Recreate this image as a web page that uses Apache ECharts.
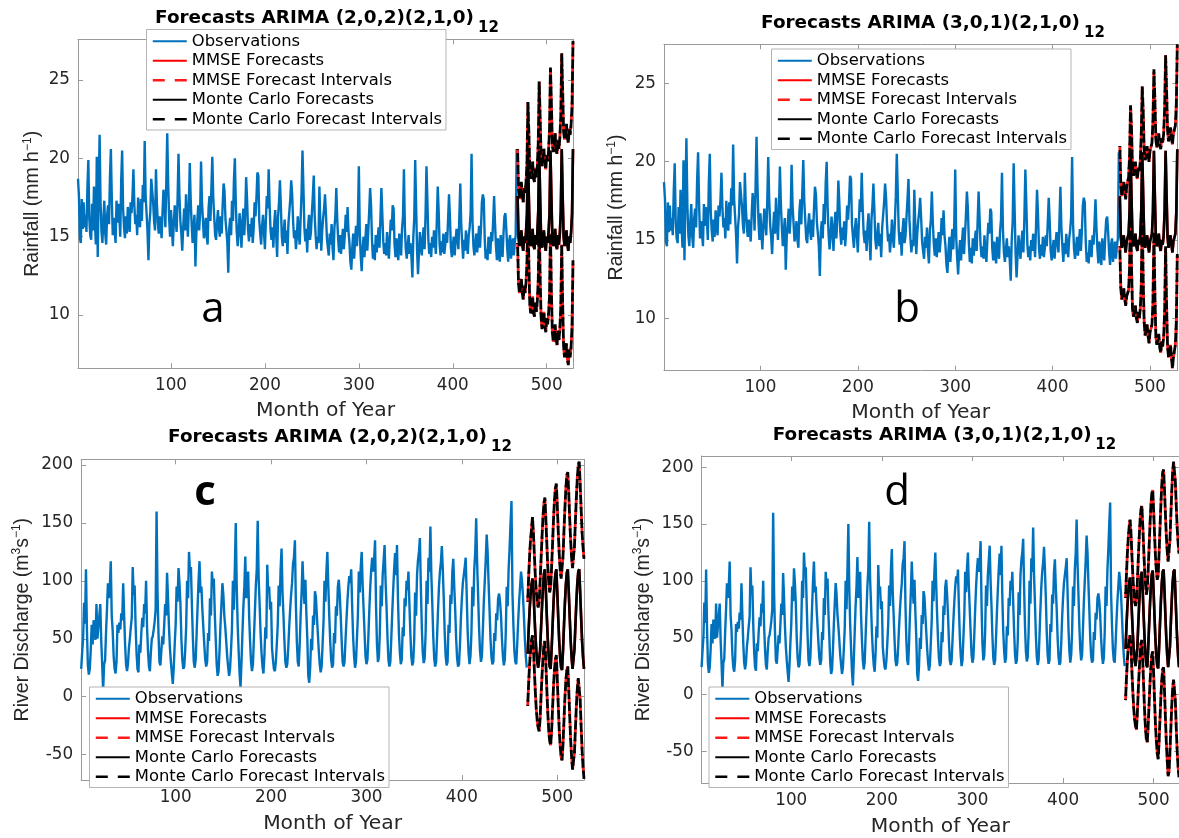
<!DOCTYPE html>
<html><head><meta charset="utf-8">
<script src="https://cdn.jsdelivr.net/npm/echarts@6/dist/echarts.min.js"></script>
<style>html,body{margin:0;padding:0;background:#fff}#c{width:1179px;height:838px}</style>
</head><body><div id="c"></div>
<script>
// ---------------- DATA ----------------
const xTicks = [100, 200, 300, 400, 500];
const rainTicks = [10, 15, 20, 25];
const flowTicks = [-50, 0, 50, 100, 150, 200];
const legendNames = ['Observations', 'MMSE Forecasts', 'MMSE Forecast Intervals', 'Monte Carlo Forecasts', 'Monte Carlo Forecast Intervals'];
const titlesMain = ['Forecasts ARIMA (2,0,2)(2,1,0)', 'Forecasts ARIMA (3,0,1)(2,1,0)', 'Forecasts ARIMA (2,0,2)(2,1,0)', 'Forecasts ARIMA (3,0,1)(2,1,0)'];
const titlesSub = ['12', '12', '12', '12'];
const panelLetters = ['a', 'b', 'c', 'd'];

// Monthly rainfall observations (months 1..468)
const rainObs = [
18.7,17.6,14.9,14.6,17.4,15.5,17.2,15.6,16.4,15.3,18.1,19.9,
16.2,15.1,14.8,17.1,15.4,18.2,16.0,14.5,20.1,13.7,17.9,21.5,
17.2,15.3,14.6,16.1,17.3,15.2,14.5,16.4,17.0,15.8,18.8,20.6,
17.4,15.1,16.2,15.4,14.6,17.3,15.9,17.1,16.3,15.0,18.6,20.5,
16.8,15.6,14.9,16.3,15.2,16.9,16.0,15.3,17.2,16.5,17.6,19.3,
17.0,15.8,16.4,15.1,17.5,16.2,15.6,17.4,16.0,18.3,17.2,21.1,
17.6,16.5,15.3,13.5,15.8,16.6,18.7,18.6,17.2,16.0,15.4,19.3,
17.1,15.9,15.2,16.3,15.7,14.9,16.6,18.0,17.3,15.6,18.4,21.6,
18.4,16.2,15.0,16.7,15.5,14.4,15.9,17.0,16.1,15.3,17.4,20.3,
17.6,16.0,15.2,14.1,15.6,16.8,15.4,17.7,16.2,15.0,16.9,19.7,
17.3,15.8,14.6,15.5,16.4,13.1,15.2,16.0,17.0,15.4,16.5,19.8,
17.2,16.1,14.9,15.3,16.2,15.0,14.5,16.8,17.6,16.0,18.1,20.1,
17.5,16.3,15.1,14.8,15.9,16.7,15.6,15.0,16.3,15.2,17.0,18.4,
17.9,16.1,15.4,14.6,12.7,15.5,16.2,15.1,17.3,16.0,18.6,20.0,
17.1,15.3,14.4,15.2,16.5,15.6,14.3,15.9,16.8,15.1,16.4,18.8,
17.4,15.5,14.7,15.8,15.0,16.2,14.6,15.5,17.2,16.3,17.5,19.1,
18.9,16.0,15.2,14.5,15.7,16.4,15.3,14.2,16.0,17.6,16.8,19.3,
17.0,15.4,14.8,15.6,14.3,15.9,16.7,15.1,13.7,16.3,17.2,18.6,
16.9,15.0,14.4,15.3,16.1,14.6,15.4,13.9,15.8,16.6,17.4,18.6,
17.7,16.0,14.9,15.4,14.2,15.0,16.3,15.2,14.5,16.1,17.8,20.5,
18.1,15.6,14.7,15.5,14.0,15.7,16.4,14.8,15.3,16.5,17.6,18.9,
16.3,15.1,14.2,15.0,14.6,18.2,15.9,14.1,15.4,16.2,16.8,17.7,
16.4,14.9,14.3,13.8,15.2,14.5,15.8,14.3,13.5,15.6,16.3,18.1,
16.1,14.8,14.0,15.1,13.9,14.7,15.5,14.2,15.0,16.4,15.3,16.9,
15.3,14.6,13.4,12.9,14.3,15.2,13.6,14.8,15.7,14.4,16.0,19.5,
15.2,13.8,12.8,14.2,15.0,13.7,14.9,15.8,14.1,15.3,16.6,18.1,
17.0,14.8,13.6,14.5,13.5,15.1,14.0,14.8,15.6,14.3,16.2,18.1,
16.4,14.7,13.9,14.6,13.8,15.3,14.2,13.6,15.0,16.1,15.4,17.0,
16.8,14.5,13.7,14.9,14.1,13.5,15.2,14.4,13.8,15.5,16.3,19.3,
15.6,14.2,13.6,14.4,15.1,13.9,14.6,13.7,12.4,15.0,16.2,19.9,
16.9,14.1,12.6,14.0,15.3,14.5,13.8,14.9,15.6,14.2,16.4,19.5,
17.3,14.8,13.9,14.6,13.7,15.0,14.3,15.4,14.8,13.9,16.0,18.2,
16.6,14.5,13.8,14.7,14.0,15.2,13.9,14.5,15.3,14.6,16.1,17.7,
16.2,14.3,13.7,14.4,15.0,13.8,14.7,15.5,14.9,14.2,16.3,18.4,
15.8,14.6,13.6,14.8,14.1,15.4,14.6,13.9,15.1,15.6,16.5,20.3,
16.0,14.4,13.8,14.5,15.2,14.0,14.8,15.7,14.3,15.5,17.2,17.7,
17.4,14.9,13.6,14.2,13.5,15.0,14.6,13.9,15.3,14.7,16.0,17.6,
15.8,14.4,13.5,14.9,14.1,13.4,15.1,14.4,13.7,15.2,16.3,16.5,
15.5,14.2,13.4,14.7,15.1,13.6,14.3,14.9,13.8,14.6,15.1,20.6
];

// Rainfall forecasts, panel a (months 469..528)
const rainFcA = [17.6,15.0,14.4,14.8,15.4,14.5,14.1,15.0,14.6,15.3,16.5,20.4, 17.5,14.9,14.4,14.7,15.5,14.4,14.2,15.1,14.5,15.2,16.6,20.5, 17.6,15.0,14.3,14.8,15.4,14.5,14.1,15.0,14.6,15.3,16.5,20.5, 17.5,14.9,14.4,14.7,15.5,14.4,14.2,15.1,14.5,15.2,16.6,20.6, 17.6,15.0,14.4,14.8,15.4,14.5,14.1,15.0,14.6,15.3,16.5,20.6];
const rainUpA = [20.6,18.0,17.4,17.9,18.5,17.6,17.2,18.1,17.8,18.5,19.7,23.6, 21.7,19.1,18.7,19.0,19.8,18.7,18.5,19.4,18.8,19.5,21.0,24.9, 22.7,20.1,19.5,20.0,20.6,19.7,19.3,20.2,19.8,20.5,21.8,25.8, 23.5,20.9,20.4,20.7,21.6,20.5,20.3,21.2,20.6,21.3,22.7,26.7, 24.3,21.7,21.2,21.6,22.2,21.3,21.0,21.9,21.5,22.2,23.4,27.5];
const rainLoA = [14.6,12.0,11.4,11.7,12.3,11.4,11.0,11.9,11.4,12.1,13.3,17.2, 13.3,10.7,10.1,10.4,11.2,10.1,9.9,10.8,10.2,10.9,12.2,16.1, 12.5,9.9,9.1,9.6,10.2,9.3,8.9,9.8,9.4,10.1,11.2,15.2, 11.5,8.9,8.3,8.6,9.4,8.3,8.1,9.0,8.4,9.1,10.5,14.5, 10.7,8.0,7.3,7.6,8.2,7.2,6.8,7.8,7.3,8.0,9.3,13.5];

// Rainfall forecasts, panel b
const rainFcB = [17.8,15.2,14.5,14.6,15.3,14.7,14.2,14.9,14.8,15.4,16.8,20.6, 17.7,15.1,14.6,14.5,15.4,14.6,14.3,15.0,14.7,15.3,16.9,20.6, 17.8,15.2,14.5,14.6,15.3,14.7,14.2,14.9,14.8,15.4,16.8,20.7, 17.7,15.1,14.6,14.5,15.4,14.6,14.3,15.0,14.7,15.3,16.9,20.7, 17.8,15.2,14.5,14.6,15.3,14.7,14.2,14.9,14.8,15.4,16.8,20.8];
const rainUpB = [21.0,18.5,17.8,17.9,18.7,18.1,17.6,18.4,18.3,19.0,20.4,23.6, 22.1,19.6,19.1,19.0,20.0,19.2,18.9,19.6,19.4,20.0,21.7,24.8, 23.2,20.7,20.1,20.3,21.0,20.5,20.0,20.7,20.6,21.2,22.6,25.9, 23.9,21.4,20.9,20.8,21.8,21.1,20.8,21.5,21.2,21.8,23.4,26.8, 24.6,22.0,21.3,21.5,22.2,21.6,21.1,21.8,21.7,22.3,23.7,27.5];
const rainLoB = [14.6,11.9,11.2,11.3,11.9,11.3,10.8,11.4,11.3,11.8,13.2,17.6, 13.3,10.6,10.1,10.0,10.8,10.0,9.7,10.4,10.0,10.6,12.1,16.4, 12.4,9.7,8.9,8.9,9.6,8.9,8.4,9.1,9.0,9.6,11.0,15.5, 11.5,8.8,8.3,8.2,9.0,8.1,7.8,8.5,8.2,8.8,10.4,14.6, 10.8,8.2,7.5,7.6,8.3,7.5,6.8,7.5,7.6,8.3,9.8,14.1];

// Monthly river discharge observations (months 1..468)
const flowObs = [
24,38,50,81,63,110,58,27,19,24,40,62,
45,66,58,49,80,50,60,70,80,48,28,5,
28,31,55,75,98,85,95,117,70,57,35,24,
20,30,62,55,64,58,72,66,98,70,45,28,
22,28,42,50,60,68,112,88,96,62,38,24,
21,45,38,55,68,60,80,72,100,60,40,26,
22,38,50,52,58,65,75,160,90,55,30,27,
28,52,45,62,80,70,107,85,60,42,30,20,
11,25,45,62,95,82,111,98,80,50,32,24,
26,40,60,100,85,125,108,112,80,52,30,25,
32,55,78,100,117,90,95,75,60,45,32,26,
30,55,48,85,70,108,95,102,72,50,28,18,
22,40,62,80,98,88,70,60,48,35,26,18,
24,40,58,100,75,110,150,95,62,40,20,8,
30,55,78,95,121,85,100,108,70,48,30,22,
28,50,72,95,110,152,102,80,55,38,26,20,
35,60,50,114,90,95,75,82,42,32,24,22,
30,45,62,96,78,110,128,90,70,48,30,25,
28,42,60,75,88,98,115,120,135,80,48,30,
26,45,70,90,117,95,80,101,72,50,18,12,
25,50,40,70,62,91,86,70,55,40,28,21,
26,45,65,100,82,108,125,96,70,48,32,25,
28,55,46,78,70,95,101,88,70,48,30,26,
30,48,66,82,95,104,98,110,78,52,35,25,
30,50,70,108,90,112,125,96,75,55,35,28,
32,52,75,95,110,120,108,118,135,80,45,30,
34,55,96,78,105,118,131,100,78,52,32,26,
30,50,72,92,110,124,105,131,85,55,38,28,
32,60,52,85,78,100,92,108,80,55,35,27,
30,48,90,70,105,118,125,137,95,60,38,29,
33,55,100,80,120,108,147,105,80,52,33,26,
30,52,75,95,108,116,130,110,85,55,35,27,
30,62,55,88,80,108,119,95,75,50,33,26,
28,45,68,85,98,105,112,120,90,58,38,28,
35,55,95,78,110,125,154,115,88,60,40,30,
35,58,82,100,118,140,125,98,75,50,34,28,
30,55,48,72,66,85,89,82,70,50,35,27,
32,55,95,78,110,128,150,169,90,62,40,30,
28,45,65,82,95,108,100,88,70,50,35,25
];

// Discharge forecasts, panel c
const flowFcC = [37,58,75,88,97,102,92,72,54,40,30,25, 24,40,60,78,94,106,110,92,70,50,35,26, 24,40,60,80,96,106,110,90,68,48,34,25, 23,40,61,81,97,107,110,91,69,49,34,24, 23,41,62,82,98,108,110,90,68,48,34,24];
const flowUpC = [82,104,122,136,145,155,141,122,104,91,81,77, 82,99,119,138,155,167,172,154,133,113,99,90, 94,111,131,152,169,180,184,165,143,124,110,102, 103,121,143,163,180,191,194,176,154,135,120,111, 111,130,152,172,189,200,203,183,162,142,129,119];
const flowLoC = [-8,12,28,40,49,53,43,22,4,-11,-21,-27, -30,-19,1,18,33,45,48,30,7,-13,-29,-38, -42,-31,-11,8,23,32,36,15,-7,-28,-42,-52, -55,-41,-21,-1,14,23,26,6,-16,-37,-52,-63, -64,-48,-28,-8,7,16,17,-3,-26,-46,-61,-71];

// Discharge forecasts, panel d
const flowFcD = [40,60,77,90,99,103,92,72,54,40,30,25, 25,41,61,79,95,105,108,90,69,49,35,26, 24,41,61,80,96,106,109,90,68,48,34,25, 23,41,62,82,98,108,110,91,69,49,34,24, 23,42,63,83,99,108,110,90,68,48,34,24];
const flowUpD = [85,106,124,138,148,154,142,123,105,92,82,78, 82,98,118,137,153,163,166,149,129,110,97,88, 93,110,130,150,167,177,180,162,141,122,109,101, 105,124,146,167,185,196,198,180,159,140,126,117, 116,136,158,179,196,205,206,187,166,147,134,124];
const flowLoD = [-5,14,30,42,50,52,42,21,3,-12,-22,-28, -31,-17,3,20,35,45,48,29,7,-14,-30,-40, -42,-27,-8,10,25,35,38,18,-5,-26,-41,-52, -57,-42,-22,-2,13,22,24,3,-20,-42,-58,-72, -68,-51,-30,-10,5,13,14,-6,-30,-50,-64,-73];

// ---------------- LAYOUT ----------------
const panels = [
  {grid:{left:78, top:39.3, width:495, height:329}, xr:[1,528], yr:[6.6,27.6], yTicks:rainTicks,
   obs:rainObs, fc:rainFcA, up:rainUpA, lo:rainLoA, yName:'{t|Rainfall (mm h}{sup|\u22121}{t|)}', yGap:34, xLabGap:9, xNameGap:32,
   legend:{left:146.5, top:29.5}, title:{xr:474, y:18.3, subx:478, suby:28}, letter:{x:213, y:310, bold:false}},
  {grid:{left:664, top:44.3, width:513.3, height:326.4}, xr:[1,528], yr:[6.65,27.5], yTicks:rainTicks,
   obs:rainObs, fc:rainFcB, up:rainUpB, lo:rainLoB, yName:'{t|Rainfall (mm h}{sup|\u22121}{t|)}', yGap:36, xLabGap:8, xNameGap:32,
   legend:{left:771.5, top:49}, title:{xr:1080, y:23.3, subx:1084, suby:33.5}, letter:{x:907, y:310, bold:false}},
  {grid:{left:81.2, top:459.3, width:502.8, height:320.7}, xr:[1,528], yr:[-72,205], yTicks:flowTicks,
   obs:flowObs, fc:flowFcC, up:flowUpC, lo:flowLoC, yName:'{t|River Discharge (m}{sup|3}{t|s}{sup|\u22121}{t|)}', yGap:48, xLabGap:9, xNameGap:34,
   legend:{left:89.5, top:687}, title:{xr:487, y:437.5, subx:491, suby:447}, letter:{x:205, y:493, bold:true}},
  {grid:{left:701.6, top:456, width:480.6, height:329}, xr:[1,528], yr:[-78,210], yTicks:flowTicks,
   obs:flowObs, fc:flowFcD, up:flowUpD, lo:flowLoD, yName:'{t|River Discharge (m}{sup|3}{t|s}{sup|\u22121}{t|)}', yGap:47, xLabGap:9, xNameGap:34,
   legend:{left:709, top:687}, title:{xr:1091.6, y:435.5, subx:1095.3, suby:445}, letter:{x:897, y:493, bold:false}}
];

const AX = '#9a9a9a', TXT = '#262626';
const grids = [], xAxes = [], yAxes = [], series = [], legends = [], graphics = [];
const redDash = [6, 6];
const blackDash = [9, 3];
const legendDash = [12, 10];

const legendData = legendNames.map(n => {
  if (n === 'MMSE Forecast Intervals') return {name:n, lineStyle:{type:legendDash, dashOffset:0, color:'#ff1a1a', width:2.6}};
  if (n === 'Monte Carlo Forecast Intervals') return {name:n, lineStyle:{type:legendDash, dashOffset:0, color:'#000', width:2.6}};
  return {name:n};
});

panels.forEach((p, gi) => {
  grids.push(Object.assign({containLabel:false}, p.grid));
  const tickStyle = {show:true, inside:true, length:5, lineStyle:{color:AX, width:1}};
  xAxes.push({type:'value', gridIndex:gi, position:'bottom', min:p.xr[0], max:p.xr[1],
    axisLine:{show:true, onZero:false, lineStyle:{color:AX, width:1}},
    axisTick:Object.assign({customValues:xTicks}, tickStyle),
    axisLabel:{customValues:xTicks, color:TXT, fontFamily:'DejaVu Sans', fontSize:16.8, margin:p.xLabGap},
    splitLine:{show:false},
    name:'Month of Year', nameLocation:'middle', nameGap:p.xNameGap,
    nameTextStyle:{color:TXT, fontFamily:'DejaVu Sans', fontSize:20.3}});
  xAxes.push({type:'value', gridIndex:gi, position:'top', min:p.xr[0], max:p.xr[1],
    axisLine:{show:true, onZero:false, lineStyle:{color:AX, width:1}},
    axisTick:Object.assign({customValues:xTicks}, tickStyle),
    axisLabel:{show:false}, splitLine:{show:false}});
  yAxes.push({type:'value', gridIndex:gi, position:'left', min:p.yr[0], max:p.yr[1],
    axisLine:{show:true, onZero:false, lineStyle:{color:AX, width:1}},
    axisTick:Object.assign({customValues:p.yTicks}, tickStyle),
    axisLabel:{customValues:p.yTicks, color:TXT, fontFamily:'DejaVu Sans', fontSize:16.8, margin:8},
    splitLine:{show:false},
    name:p.yName, nameLocation:'middle', nameGap:p.yGap,
    nameTextStyle:{rich:{
      t:{color:TXT, fontFamily:'Liberation Sans', fontSize:19.5, lineHeight:22},
      sup:{color:TXT, fontFamily:'Liberation Sans', fontSize:12, lineHeight:12, padding:[0,0,11,0]}}}});
  yAxes.push({type:'value', gridIndex:gi, position:'right', min:p.yr[0], max:p.yr[1],
    axisLine:{show:true, onZero:false, lineStyle:{color:AX, width:1}},
    axisTick:Object.assign({customValues:p.yTicks}, tickStyle),
    axisLabel:{show:false}, splitLine:{show:false}});

  const xi = 2 * gi, yi = 2 * gi;
  const start = p.obs.length + 1;
  const fx = arr => arr.map((v, i) => [start + i, v]);
  const base = {type:'line', xAxisIndex:xi, yAxisIndex:yi, symbol:'none', showSymbol:false, silent:true,
    emphasis:{disabled:true}, animation:false, clip:true};
  series.push(Object.assign({}, base, {name:'Observations', data:p.obs.map((v, i) => [i + 1, v]),
    lineStyle:{color:'#0072BD', width:2.4}, itemStyle:{color:'#0072BD'}, z:2}));
  series.push(Object.assign({}, base, {name:'MMSE Forecasts', data:fx(p.fc),
    lineStyle:{color:'#ff0000', width:2.6}, itemStyle:{color:'#ff0000'}, z:3}));
  series.push(Object.assign({}, base, {name:'MMSE Forecast Intervals', data:fx(p.up),
    lineStyle:{color:'#ff1a1a', width:2.8, type:redDash}, itemStyle:{color:'#ff1a1a'}, z:3}));
  series.push(Object.assign({}, base, {name:'MMSE Forecast Intervals', data:fx(p.lo),
    lineStyle:{color:'#ff1a1a', width:2.8, type:redDash}, itemStyle:{color:'#ff1a1a'}, z:3}));
  series.push(Object.assign({}, base, {name:'Monte Carlo Forecasts', data:fx(p.fc),
    lineStyle:{color:'#000', width:2.6}, itemStyle:{color:'#000'}, z:4}));
  series.push(Object.assign({}, base, {name:'Monte Carlo Forecast Intervals', data:fx(p.up),
    lineStyle:{color:'#000', width:2.8, type:blackDash, dashOffset:8}, itemStyle:{color:'#000'}, z:4}));
  series.push(Object.assign({}, base, {name:'Monte Carlo Forecast Intervals', data:fx(p.lo),
    lineStyle:{color:'#000', width:2.8, type:blackDash, dashOffset:8}, itemStyle:{color:'#000'}, z:4}));

  legends.push({show:true, left:p.legend.left, top:p.legend.top, orient:'vertical', data:legendData,
    itemGap:2, itemWidth:34, itemHeight:14, padding:[3,4,2,5], selectedMode:false,
    itemStyle:{opacity:0, borderWidth:0},
    backgroundColor:'#fff', borderColor:'#b3b3b3', borderWidth:1, borderRadius:0,
    textStyle:{fontFamily:'DejaVu Sans', fontSize:16.4, color:'#000', lineHeight:17.5}, z:10});

  graphics.push({type:'text', x:p.title.xr, y:p.title.y, z:20, style:{text:titlesMain[gi], fill:'#000',
    fontFamily:'DejaVu Sans', fontWeight:'bold', fontSize:18.4, align:'right', verticalAlign:'middle'}});
  graphics.push({type:'text', x:p.title.subx, y:p.title.suby, z:20, style:{text:titlesSub[gi], fill:'#000',
    fontFamily:'DejaVu Sans', fontWeight:'bold', fontSize:15, align:'left', verticalAlign:'middle'}});
  graphics.push({type:'text', x:p.letter.x, y:p.letter.y, z:20, style:{text:panelLetters[gi], fill:'#000',
    fontFamily:'Open Sans', fontWeight:p.letter.bold ? 'bold' : 'normal', fontSize:42, align:'center', verticalAlign:'middle'}});
});

const chart = echarts.init(document.getElementById('c'), null, {renderer:'canvas'});
chart.setOption({
  backgroundColor:'#fff', animation:false,
  grid:grids, xAxis:xAxes, yAxis:yAxes, series:series, legend:legends, graphic:graphics
});
</script>
</body></html>
